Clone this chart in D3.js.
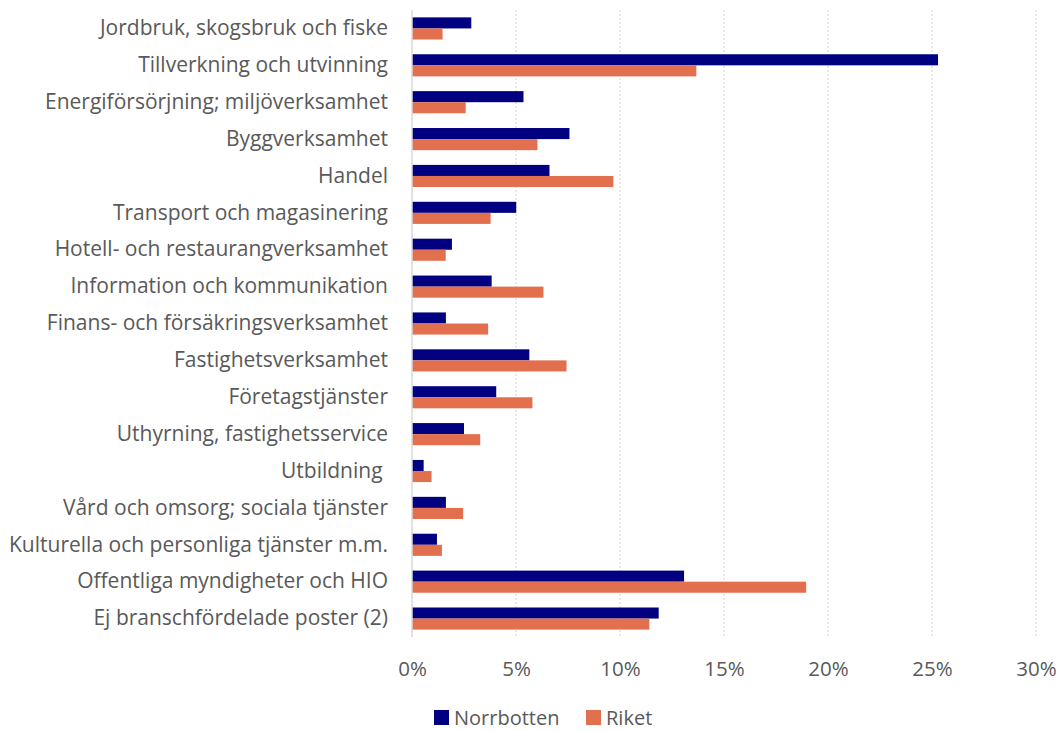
<!DOCTYPE html>
<html>
<head>
<meta charset="utf-8">
<script src="https://cdnjs.cloudflare.com/ajax/libs/d3/7.8.5/d3.min.js"></script>
<style>
  body { margin: 0; background: #fff; }
  text { font-family: "Open Sans", "Noto Sans", sans-serif; fill: #595959; }
</style>
</head>
<body>
<svg id="chart" width="1058" height="731"></svg>
<script>
'use strict';

var categories = [
	"Jordbruk, skogsbruk och fiske",
	"Tillverkning och utvinning",
	"Energiförsörjning; miljöverksamhet",
	"Byggverksamhet",
	"Handel",
	"Transport och magasinering",
	"Hotell- och restaurangverksamhet",
	"Information och kommunikation",
	"Finans- och försäkringsverksamhet",
	"Fastighetsverksamhet",
	"Företagstjänster",
	"Uthyrning, fastighetsservice",
	"Utbildning ",
	"Vård och omsorg; sociala tjänster",
	"Kulturella och personliga tjänster m.m.",
	"Offentliga myndigheter och HIO",
	"Ej branschfördelade poster (2)"
];
var norrbotten = [2.85, 25.29, 5.36, 7.57, 6.61, 5.01, 1.92, 3.83, 1.63, 5.64, 4.05, 2.50, 0.56, 1.63, 1.20, 13.08, 11.86];
var riket = [1.47, 13.67, 2.58, 6.03, 9.68, 3.78, 1.62, 6.32, 3.66, 7.43, 5.79, 3.28, 0.94, 2.46, 1.44, 18.95, 11.41];
var seriesNames = ["Norrbotten", "Riket"];
var seriesColors = ["#000080", "#E2704F"];
var xTicks = [0, 5, 10, 15, 20, 25, 30];

var svg = d3.select("#chart");
var margin = { left: 412, right: 22, top: 10, bottom: 94 };
var width = 1058 - margin.left - margin.right;
var height = 731 - margin.top - margin.bottom;

var g = svg.append("g").attr("transform", "translate(" + margin.left + "," + margin.top + ")");

var x = d3.scaleLinear().domain([0, 30]).range([0, width]);
var y = d3.scaleBand().domain(categories).range([0, height]).paddingInner(0.4).paddingOuter(0.2);
var y1 = d3.scaleBand().domain(seriesNames).range([0, y.bandwidth()]);

// grid
g.selectAll("line.grid")
	.data(xTicks.slice(1))
	.enter()
	.append("line")
	.attr("class", "grid")
	.attr("x1", function(d) { return x(d); })
	.attr("x2", function(d) { return x(d); })
	.attr("y1", 0)
	.attr("y2", height)
	.attr("stroke", "#d0d0d0")
	.attr("stroke-width", 1)
	.attr("stroke-dasharray", "2,2");

var rows = categories.map(function(c, i) {
	return { name: c, values: [norrbotten[i], riket[i]] };
});

var group = g.selectAll("g.row")
	.data(rows)
	.enter()
	.append("g")
	.attr("class", "row")
	.attr("transform", function(d) { return "translate(0," + y(d.name) + ")"; });

group.selectAll("rect")
	.data(function(d) {
		return d.values.map(function(v, i) { return { series: seriesNames[i], value: v, color: seriesColors[i] }; });
	})
	.enter()
	.append("rect")
	.attr("x", x(0))
	.attr("y", function(d) { return y1(d.series); })
	.attr("height", y1.bandwidth())
	.attr("width", function(d) { return x(d.value) - x(0); })
	.attr("fill", function(d) { return d.color; });

// y axis line
g.append("line")
	.attr("x1", 0).attr("x2", 0)
	.attr("y1", 0).attr("y2", height)
	.attr("stroke", "#d9d9d9")
	.attr("stroke-width", 1.5);

// category labels
var yAxis = d3.axisLeft(y).tickSize(0).tickPadding(24);
var yg = g.append("g").call(yAxis);
yg.select(".domain").remove();
yg.selectAll("text")
	.style("font-size", "21px")
	.style("white-space", "pre")
	.attr("fill", "#595959");

// x axis labels
var xAxis = d3.axisBottom(x).tickValues(xTicks).tickSize(0).tickPadding(24)
	.tickFormat(function(d) { return d + "%"; });
var xg = g.append("g").attr("transform", "translate(0," + height + ")").call(xAxis);
xg.select(".domain").remove();
xg.selectAll("text")
	.style("font-size", "20.5px")
	.attr("fill", "#595959");

// legend
var legend = svg.append("g").attr("transform", "translate(434,710)");
var legendItem = legend.selectAll("g")
	.data(seriesNames)
	.enter()
	.append("g")
	.attr("transform", function(d, i) { return "translate(" + (i * 152) + ",0)"; });
legendItem.append("rect")
	.attr("width", 15).attr("height", 15)
	.attr("fill", function(d, i) { return seriesColors[i]; });
legendItem.append("text")
	.attr("x", 20).attr("y", 7.5).attr("dy", "0.35em")
	.style("font-size", "20px")
	.text(function(d) { return d; });
</script>
</body>
</html>
